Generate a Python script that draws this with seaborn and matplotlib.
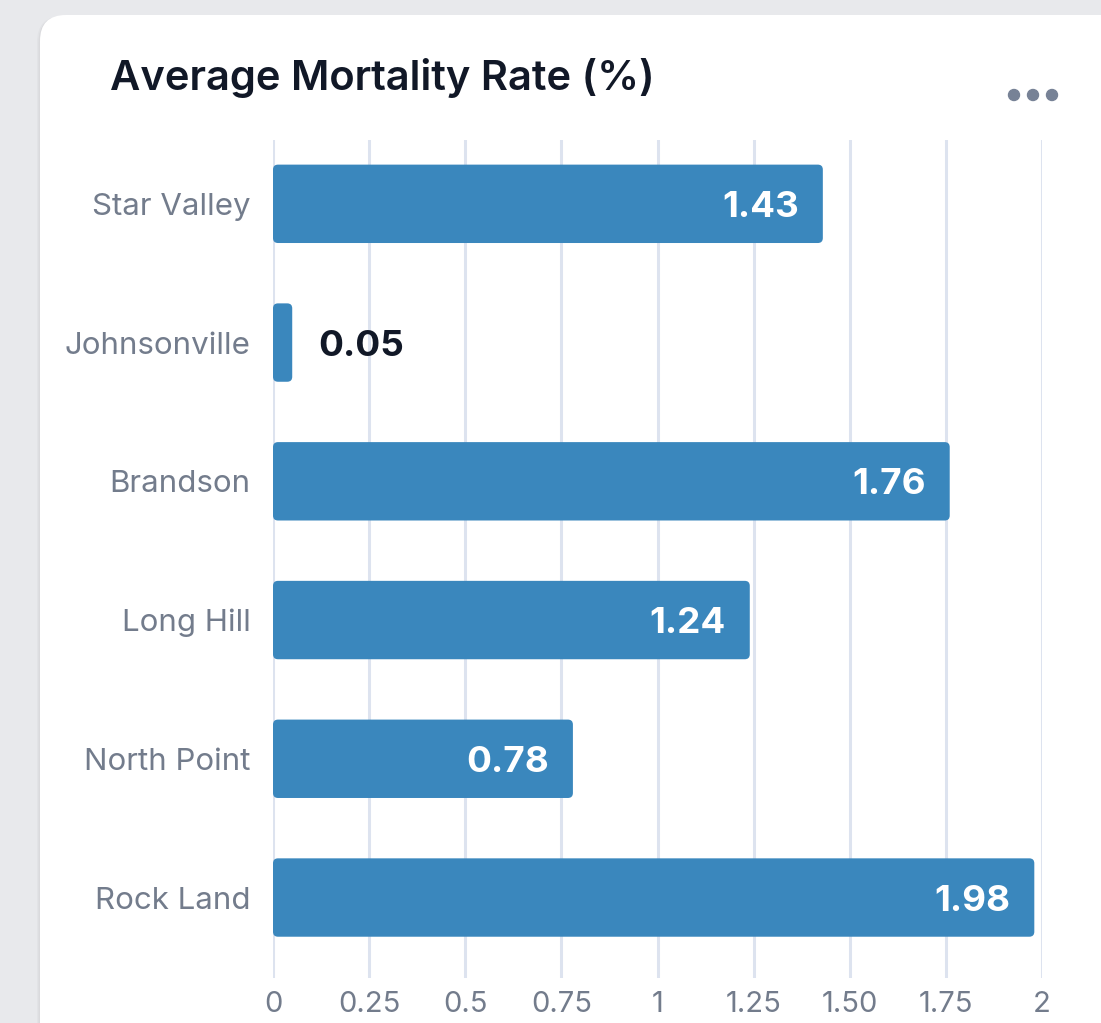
import numpy as np
import pandas as pd
import seaborn as sns
import matplotlib
matplotlib.use('Agg')
import matplotlib.pyplot as plt
from matplotlib.patches import FancyBboxPatch, Circle

sns.set_theme(style="white")
plt.rcParams['font.family'] = ['Inter', 'DejaVu Sans']

# === data ===
towns = ["Star Valley", "Johnsonville", "Brandson", "Long Hill", "North Point", "Rock Land"]
mortality = [1.43, 0.05, 1.76, 1.24, 0.78, 1.98]
tick_vals = [0, 0.25, 0.5, 0.75, 1, 1.25, 1.5, 1.75, 2]
tick_text = ["0", "0.25", "0.5", "0.75", "1", "1.25", "1.50", "1.75", "2"]

df = pd.DataFrame({"town": towns, "rate": mortality})

bar_color = "#3a87bd"
grid_color = "#dde3ef"
label_grey = "#737c8c"

W, H = 1101, 1023
fig = plt.figure(figsize=(W / 100, H / 100), dpi=100)
fig.patch.set_facecolor("#e8e9ec")

# background card (pixel coords)
bg = fig.add_axes([0, 0, 1, 1], zorder=0)
bg.set_xlim(0, W)
bg.set_ylim(H, 0)
bg.axis("off")
for off, a in [(6, 0.025), (3, 0.035)]:
    bg.add_patch(FancyBboxPatch((40 - off / 2, 15 + 1), W + 100, H + 100,
                                boxstyle="round,pad=0,rounding_size=26",
                                facecolor="black", edgecolor="none", alpha=a,
                                linewidth=off))
bg.add_patch(FancyBboxPatch((40, 15), W + 100, H + 100,
                            boxstyle="round,pad=0,rounding_size=26",
                            facecolor="white", edgecolor="none"))
for cx in [1014, 1033, 1052]:
    bg.add_patch(Circle((cx, 95), 5.5, color="#778296"))
bg.text(110, 78, "Average Mortality Rate (%)", fontsize=30, fontweight="semibold",
        color="#111827", va="center", ha="left")

# === chart ===
ax = fig.add_axes([273 / W, 1 - 978 / H, (1042 - 273) / W, (978 - 140) / H], zorder=1)
ax.patch.set_alpha(0)
sns.barplot(data=df, x="rate", y="town", color=bar_color, width=0.565,
            saturation=1, ax=ax, zorder=3)

# swap rectangles for slightly rounded bars
ppx = (1042 - 273) / 2.0
ppy = (978 - 140) / 6.04
r = 5 / ppx
for p in list(ax.patches):
    x0, y0, w, h = p.get_x(), p.get_y(), p.get_width(), p.get_height()
    p.set_visible(False)
    ax.add_patch(FancyBboxPatch((x0, y0), w, h,
                                boxstyle=f"round,pad=0,rounding_size={r}",
                                mutation_aspect=ppx / ppy,
                                facecolor=bar_color, edgecolor="none", zorder=3))

for i, v in enumerate(mortality):
    if v < 0.3:
        ax.text(v + 26 / ppx, i, f"{v:.2f}", color="#111827", fontsize=26.5,
                fontweight="bold", va="center_baseline", ha="left", zorder=4)
    else:
        ax.text(v - 24 / ppx, i, f"{v:.2f}", color="white", fontsize=26.5,
                fontweight="bold", va="center_baseline", ha="right", zorder=4)

ax.set_xlim(0, 2)
ax.set_ylim(5.58, -0.46)
ax.set_xticks(tick_vals)
ax.set_xticklabels(tick_text)
ax.xaxis.grid(True, color=grid_color, linewidth=2.2, zorder=0)
ax.set_axisbelow(True)
for s in ax.spines.values():
    s.set_visible(False)
ax.tick_params(axis="x", length=0, pad=9, labelsize=21, labelcolor=label_grey)
ax.tick_params(axis="y", length=0, pad=16, labelsize=22.5, labelcolor=label_grey)
ax.set_xlabel("")
ax.set_ylabel("")

fig.savefig("out.png", dpi=100, facecolor=fig.get_facecolor())
